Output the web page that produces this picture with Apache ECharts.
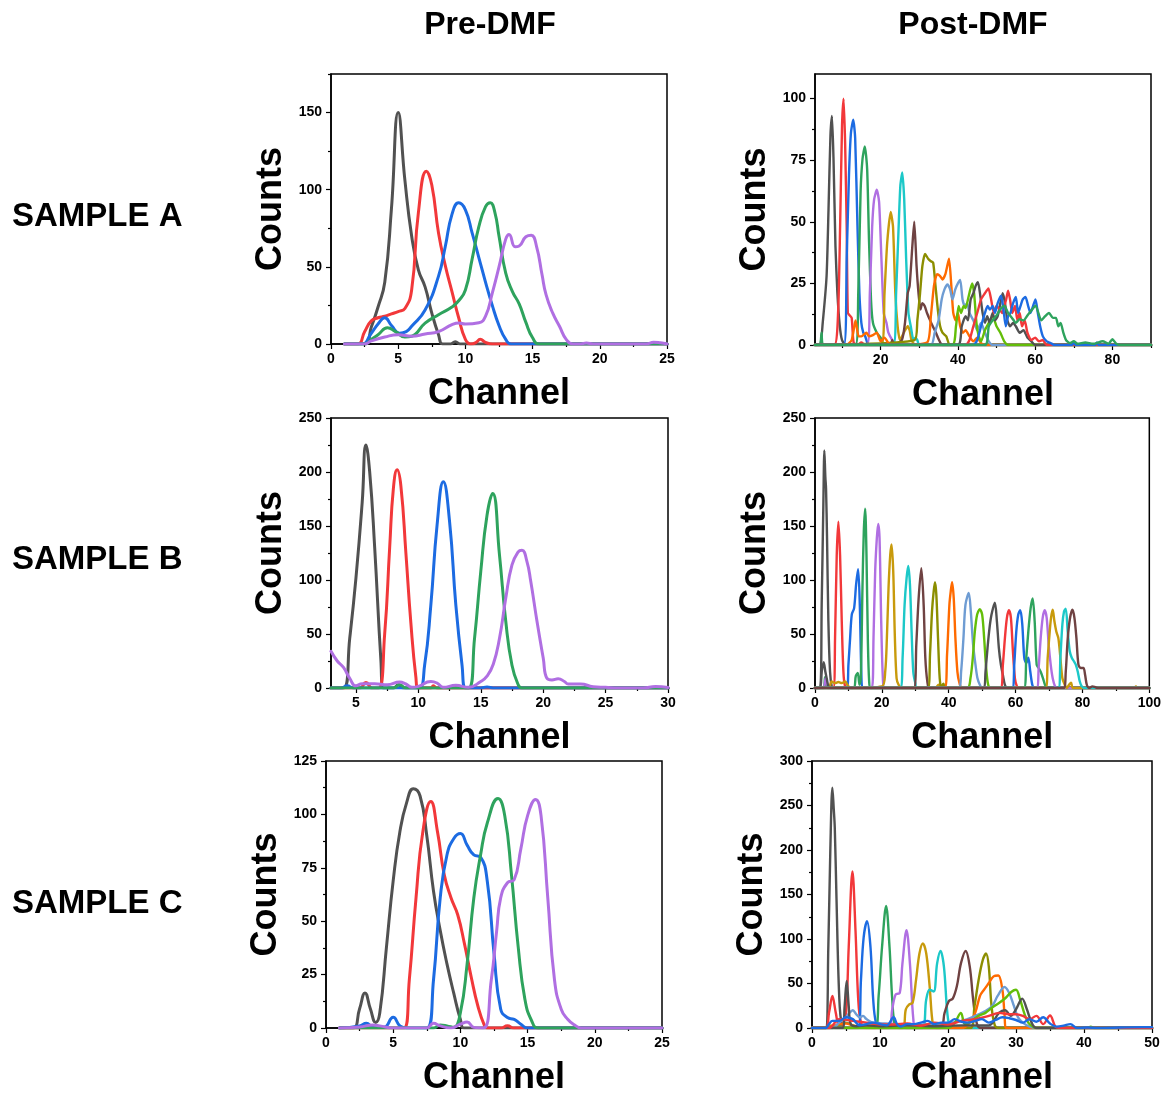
<!DOCTYPE html>
<html>
<head>
<meta charset="utf-8">
<script src="https://cdn.jsdelivr.net/npm/echarts@6/dist/echarts.min.js"></script>
<style>
  html, body { margin: 0; padding: 0; background: #fff; }
  #chart { width: 1164px; height: 1097px; }
</style>
</head>
<body>
<div id="chart"></div>
<script>
// ---------- Axis ticks ----------
const preA_xMajor = [0, 5, 10, 15, 20, 25];
const preA_xMinor = [2.5, 7.5, 12.5, 17.5, 22.5];
const preA_yMajor = [0, 50, 100, 150];
const preA_yMinor = [25, 75, 125, 175];

const postA_xMajor = [20, 40, 60, 80];
const postA_xMinor = [10, 30, 50, 70, 90];
const postA_yMajor = [0, 25, 50, 75, 100];
const postA_yMinor = [12.5, 37.5, 62.5, 87.5];

const preB_xMajor = [5, 10, 15, 20, 25, 30];
const preB_xMinor = [7.5, 12.5, 17.5, 22.5, 27.5];
const preB_yMajor = [0, 50, 100, 150, 200, 250];
const preB_yMinor = [25, 75, 125, 175, 225];

const postB_xMajor = [0, 20, 40, 60, 80, 100];
const postB_xMinor = [10, 30, 50, 70, 90];
const postB_yMajor = [0, 50, 100, 150, 200, 250];
const postB_yMinor = [25, 75, 125, 175, 225];

const preC_xMajor = [0, 5, 10, 15, 20, 25];
const preC_xMinor = [2.5, 7.5, 12.5, 17.5, 22.5];
const preC_yMajor = [0, 25, 50, 75, 100, 125];
const preC_yMinor = [12.5, 37.5, 62.5, 87.5, 112.5];

const postC_xMajor = [0, 10, 20, 30, 40, 50];
const postC_xMinor = [5, 15, 25, 35, 45];
const postC_yMajor = [0, 50, 100, 150, 200, 250, 300];
const postC_yMinor = [25, 75, 125, 175, 225, 275];

// ---------- Sample A, pre-DMF: [channel, counts] ----------
const preA_gray = [[1,0],[2.5,0],[3,11],[3.5,24],[4,40],[4.5,88],[5,150],[5.5,106],[6,70],[6.5,48],[7,37],[7.5,20],[8,6],[8.3,0],[8.9,0],[9.25,1.5],[9.6,0],[25,0]];
const preA_red = [[1,0],[2,0],[2.5,8],[3,15],[3.5,17],[4,18],[4.5,19.5],[5,21],[5.5,23],[6,35],[6.5,85],[7.1,112],[7.5,103],[8,72],[8.5,51],[9,34],[9.5,17],[10,3],[10.4,0],[10.8,1],[11.1,3],[11.5,1],[12,0],[25,0]];
const preA_blue = [[1,0],[2.3,0],[3,7],[3.5,13],[4,17],[4.5,12],[5.1,7],[5.6,8],[6,11.5],[7,22],[8,44],[8.5,63],[9,84],[9.5,91.5],[10,87],[10.5,72],[11,56],[11.5,40],[12,25],[12.5,12],[13,3],[13.4,0],[25,0]];
const preA_green = [[1,0],[2.5,0],[3,3],[3.5,6],[4.2,10.5],[4.8,8],[5.5,4.5],[6,5],[7,13.5],[8,19],[9,24],[9.5,28],[10,35],[10.5,55],[11,76],[11.5,89],[11.85,91.5],[12.2,85],[12.5,70],[13,46],[13.5,34],[14,26],[14.5,14],[15,4],[15.5,0],[25,0]];
const preA_purple = [[1,0],[2.5,0],[3,2],[4,4.5],[5,6],[6,5],[7,6.5],[8,8],[9,12.5],[9.5,13.6],[10,13],[11,13.8],[11.5,18],[12,33],[12.5,50],[13,68],[13.25,71],[13.7,63],[14,63.5],[14.5,69.5],[14.9,70.5],[15.3,63],[15.7,45],[16,32],[16.5,20],[17,11.5],[17.5,3],[18,0],[18.6,0],[19,0.7],[19.5,0],[23.5,0],[24,1.2],[24.5,0.8],[25,0]];

// ---------- Sample B, pre-DMF ----------
const preB_gray = [[3,0],[4,0],[4.5,46],[5,102],[5.5,172],[5.8,225],[6.1,200],[6.5,130],[7,25],[7.2,0],[8,0],[8.4,3],[8.8,0],[30,0]];
const preB_red = [[3,0],[5.3,0],[5.8,5],[6.3,0],[6.8,0],[7.3,50],[7.7,130],[8,185],[8.3,202],[8.6,187],[9,125],[9.4,60],[9.8,10],[10,0],[11,0],[11.2,2],[11.5,0],[30,0]];
const preB_blue = [[3,0],[3.8,0],[4.3,2],[4.8,0],[10,0],[10.5,21],[11,77],[11.5,151],[12,191],[12.5,154],[13,77],[13.5,21],[13.8,0],[15,0],[15.5,1],[16,0],[30,0]];
const preB_green = [[3,0],[8,0],[8.5,3],[9,0],[14,0],[14.5,46],[15,108],[15.5,160],[15.95,180],[16.5,123],[17,62],[17.5,21],[18,3],[18.3,0],[30,0]];
const preB_purple = [[3,34],[3.5,25],[4,19],[4.5,9],[5,2],[5.5,4],[6.5,4],[7.5,3],[8.5,5.5],[9,3.7],[9.5,0.6],[10,1.5],[11,6],[11.5,4.6],[12,0.6],[13,2.5],[14,0.6],[15,6],[15.5,11],[16,22],[16.5,46],[17,83],[17.5,114],[18,126],[18.3,127.5],[18.7,117],[19,99],[19.5,62],[20,28],[20.3,9],[20.7,7.5],[21.2,8.5],[21.7,6],[22,3.7],[23,3.7],[24,1.2],[25,0.6],[26,0],[28,0],[29,1.5],[30,0.5]];

// ---------- Sample C, pre-DMF ----------
const preC_gray = [[1,0],[2,0],[2.5,9],[2.9,16.4],[3.3,9],[3.7,2.6],[4,7],[4.5,38],[5,69],[5.5,92],[6,105.5],[6.5,112],[7,108.6],[7.5,90],[8,64],[8.5,45.6],[9,30],[9.5,16.4],[10,4],[10.3,0],[25,0]];
const preC_red = [[1,0],[5.8,0],[6.2,22.6],[6.7,61],[7.2,91.7],[7.8,106],[8.3,91.7],[8.8,71.7],[9.3,61],[9.8,53],[10.3,39.5],[10.8,24],[11.3,10.3],[11.8,1],[12,0],[13,0],[13.5,1],[14,0],[25,0]];
const preC_blue = [[1,0],[2.5,1],[3,2.2],[3.5,0.5],[4.3,0.3],[5,5],[5.5,1],[6,0],[7.5,0],[8,22.6],[8.5,61],[9,81],[9.5,88.6],[10,91],[10.5,85.6],[11,81],[11.5,80],[12,68.7],[12.5,35],[13,8.8],[13.5,4.9],[14,4],[14.5,1.8],[15,0],[25,0]];
const preC_green = [[1,0],[8,0],[8.5,1.4],[9,1],[9.5,0.3],[10,7.2],[10.5,30],[11,61],[11.5,81],[12,96],[12.8,107.4],[13.3,99.4],[13.8,71.7],[14.3,38],[14.8,13.4],[15.3,3.4],[15.8,0],[25,0]];
const preC_purple = [[1,0],[2.5,0.5],[3.5,1.4],[4,1],[5,0],[7.5,0],[8,2.2],[8.5,1],[9.3,0],[10,1.8],[10.5,2.8],[11,0.3],[11.7,0],[12.3,22.6],[12.7,45.6],[13,61],[13.5,68],[14,69.4],[14.5,84],[15,99.4],[15.6,107],[16,99.4],[16.5,61],[17,22.6],[17.5,8.8],[18,4],[18.5,1.4],[19,0],[25,0]];

// ---------- Sample A, post-DMF ----------
const postA_gray = [[3,0],[4.3,0],[5,9],[6,28],[6.5,55],[7,85],[7.4,93],[7.8,75],[8.3,40],[8.8,21],[9.4,8],[10,2],[11,0],[90,0]];
const postA_red = [[3,0],[8,0],[9,14],[9.5,48],[10,89],[10.4,100],[10.8,82],[11.2,48],[11.5,13],[12,12],[12.5,11],[13,1],[14,0],[15,1],[16,0],[90,0]];
const postA_blue = [[3,0],[10.5,0],[11.2,35],[11.8,69],[12.3,86],[12.9,91.5],[13.4,84],[14,48],[14.5,21],[15,9],[15.5,5],[16,3.5],[17,0],[90,0]];
const postA_green = [[3,0],[4.3,0],[4.7,5],[5.1,0],[13.5,0],[14.2,21],[14.8,62],[15.3,75.5],[15.9,80.6],[16.5,71.5],[17,41.6],[17.5,18.5],[18,9],[19,5],[20,3],[21,0],[90,0]];
const postA_purple = [[3,0],[16.5,0],[17.2,21],[17.8,48],[18.3,59],[19,63],[19.6,58],[20.2,35],[20.8,13],[21.5,9],[22,5],[23,2],[24,0],[90,0]];
const postA_gold = [[3,0],[20.2,0],[21,21],[21.7,41.6],[22.6,54],[23.2,48],[23.8,21],[24.4,7.6],[25,2],[26,5],[27,7.6],[27.5,6],[28,2],[29,0],[90,0]];
const postA_cyan = [[3,0],[23.3,0],[24,21],[24.6,45.6],[25.1,64.7],[25.6,70],[26.1,59],[26.6,35],[27.2,13],[27.8,7.6],[28.5,2],[29,3],[29.5,2],[30,0],[90,0]];
const postA_brown = [[3,0],[22.5,0],[23,2],[23.5,0],[25.5,2],[26.3,9],[27,21],[27.5,24],[28.2,40],[28.7,50],[29.3,32],[29.8,21],[30.3,14.4],[30.8,17],[31.4,15.8],[32,13],[32.8,10],[33.5,7.6],[34.3,5],[35,2.4],[36,0],[90,0]];
const postA_olive = [[3,0],[28.8,2],[29.5,10],[30.2,21],[30.8,32],[31.5,37],[32.3,35],[33,34],[33.6,33.4],[34.2,24],[34.8,14.4],[35.4,7.6],[36,5],[37,3.5],[38,0],[90,0]];
const postA_orange = [[3,0],[11,0],[12.5,2],[13.5,10],[14.3,3.5],[15,3.5],[16.3,5],[17,3.5],[18,4],[19,5],[20,1.5],[21,3],[22,0.8],[23,0],[32,1],[33,11.7],[33.8,24],[34.6,28.7],[35.4,28],[36,26.6],[36.8,29],[37.7,35],[38.3,24],[38.8,13],[39.4,10],[40,13],[40.6,7.6],[41.3,5],[42,6],[43,3.5],[44,1.5],[45,3],[46,0.8],[47,0],[90,0]];
const postA_lightblue = [[3,0],[33,0],[34,5],[35,10],[35.8,18.5],[36.5,22.5],[37.3,24.6],[38,22.5],[38.6,18.5],[39.3,22.5],[40,25],[40.6,26.4],[41.2,18.5],[41.8,15.8],[42.4,17],[43,13],[44,10],[45,6],[46,9],[47,5],[48,1.5],[49,0],[90,0]];
const postA_lime = [[3,0],[38.5,0],[39.5,7.6],[40.2,15.8],[40.8,13],[41.5,15.8],[42,15],[42.6,18.5],[43.2,22.5],[43.7,25],[44.2,21],[44.8,9],[45.4,3.5],[46,1.5],[47,6],[48,9],[49,11.7],[50,7.6],[51,5],[52,1.5],[53,0],[90,0]];
const postA_gray2 = [[3,0],[40,0],[41,7.6],[42,11.7],[42.6,10],[43.3,18.5],[44,21],[44.6,24],[45.2,25.5],[45.8,20],[46.4,13],[47,9],[47.6,11.7],[48.2,9],[49,13],[49.6,10],[50.3,11.7],[51,17],[51.6,21],[52.2,17],[52.8,10],[53.5,7.6],[54.3,9],[55,7.6],[56,5],[57,6],[58,3],[59,1.5],[60,0],[90,0]];
const postA_red2 = [[3,0],[42,0],[43,2],[44,7.6],[45,13],[46,18.5],[47,21],[47.9,23],[48.6,18.5],[49.3,13],[50,15.8],[50.8,14.4],[51.5,13],[52,15.8],[52.5,18.5],[53,22],[53.5,18.5],[54.1,13],[54.8,15.8],[55.4,10],[56,13],[56.6,7.6],[57.3,10],[58,5],[59,2],[60,3],[61,1.5],[62,2],[63,0],[90,0]];
const postA_blue2 = [[3,0],[44,0],[45,2],[46,7.6],[47,13],[47.7,15.8],[48.3,14.4],[49,15.8],[49.6,13],[50.3,17],[51.2,20],[51.8,14.4],[52.4,7.6],[53,11.7],[53.6,13],[54.3,17],[55,19.5],[55.6,13],[56.2,15.8],[56.8,18.5],[57.5,19.5],[58.2,15.8],[58.8,13],[59.5,16],[60.1,18.5],[60.7,13],[61.3,7.6],[62,3.5],[63,1.5],[64,0.8],[65,0],[69.5,0],[70,1],[70.5,0],[75.5,0],[76,1],[76.5,0],[90,0]];
const postA_green2 = [[3,0],[47,0],[48,7.6],[49,10],[50,12],[51,14.5],[52,16],[53,13],[54,11],[55,9],[56,10.5],[57,10],[58,12],[59,14],[60.1,16],[61.6,10],[62.6,11.7],[63.6,13],[64.6,11],[65.4,11],[66,7.6],[66.6,9],[67.3,5],[68,2],[69,0.8],[70,1.5],[71,0.5],[73,1],[75,0.5],[77.5,1.5],[79,0.5],[80,2.4],[81,0.5],[82,0],[90,0]];

// ---------- Sample B, post-DMF ----------
const postB_gray = [[0,0],[1.5,0],[2,77],[2.5,170],[2.8,220],[3.1,195],[3.3,185],[3.6,139],[4,62],[4.5,15],[5,1.5],[5.5,0],[100,0]];
const postB_red = [[0,0],[5.5,0],[6,46],[6.5,123],[7,154],[7.5,123],[8,62],[8.5,15],[9,1.5],[10,0],[100,0]];
const postB_blue = [[0,0],[3,0],[3.6,3],[4.2,0],[9.5,0],[10,21.6],[10.5,46],[11,68],[11.7,74],[12.3,96],[12.9,110],[13.4,77],[13.9,9],[14.3,0],[100,0]];
const postB_green = [[0,0],[2.5,0],[3,10],[3.5,0],[11.5,0],[12.2,11],[12.8,14],[13.3,3],[13.7,9],[14.2,93],[14.6,145],[15,166],[15.4,123],[15.8,46],[16.2,6],[16.7,0],[100,0]];
const postB_purple = [[0,0],[2.5,0],[3.2,9],[3.8,2],[4.5,0],[17,0],[17.5,46],[18,108],[18.5,139],[18.9,152],[19.3,139],[19.8,62],[20.3,9],[20.8,0],[100,0]];
const postB_gold = [[0,0],[4,0],[5,6],[6,4.5],[7,5.5],[8,4.6],[9,6],[10,1.5],[11,0],[20,1.5],[21,15],[21.5,46],[22,93],[22.5,123],[22.9,133],[23.4,108],[23.9,46],[24.4,9],[25,3],[26,0],[36,0],[37,3],[38,1],[39,0],[95.5,0],[96,1.5],[96.5,0],[100,0]];
const postB_cyan = [[0,0],[25.5,0],[26.2,28],[26.8,77],[27.4,102],[27.9,113],[28.4,96],[28.9,52],[29.4,15],[30,4.6],[30.5,0],[100,0]];
const postB_brown = [[0,0],[29.6,0],[30.3,40],[31,83],[31.8,111],[32.5,77],[33,28],[33.6,6],[34.3,0],[100,0]];
const postB_olive = [[0,0],[33.8,0],[34.4,31],[35,71],[35.5,89.5],[35.9,98],[36.3,86],[36.8,46],[37.3,9],[37.8,0],[38.4,4],[39,0],[100,0]];
const postB_orange = [[0,0],[38.8,0],[39.5,31],[40.2,77],[40.6,89.5],[41,98],[41.5,83],[42,46],[42.6,15],[43.2,4.6],[44,0],[100,0]];
const postB_lightblue = [[0,0],[43,0],[43.7,15],[44.4,46],[45,77],[46,88],[46.6,71],[47.3,40],[48,21.6],[48.6,9],[49.3,3],[50,0],[100,0]];
const postB_lime = [[0,0],[45.5,0],[46.5,9],[47.2,28],[47.8,52],[48.5,68],[49.3,73],[50,68],[50.6,46],[51.2,18.5],[51.8,3],[52.5,0],[100,0]];
const postB_gray2 = [[0,0],[1.5,0],[2,15],[2.6,24],[3.1,15],[3.5,9],[4,1.5],[4.5,0],[50.5,0],[51,15],[51.6,37],[52.2,55.5],[52.8,68],[53.8,79],[54.4,62],[55,37],[55.6,21.6],[56.2,12],[56.8,3],[57.5,0],[100,0]];
const postB_red2 = [[0,0],[55.5,0],[56.2,21.6],[56.8,46],[57.4,65],[58,72],[58.6,65],[59.2,34],[59.8,9],[60.4,1.5],[61,0],[100,0]];
const postB_blue2 = [[0,0],[59,0],[59.6,21.6],[60.2,52],[60.8,68],[61.4,72],[62,59],[62.6,28],[63.2,23],[63.8,28],[64.4,15],[65,3],[65.6,0],[100,0]];
const postB_green2 = [[0,0],[62.5,0],[63.2,28],[63.8,52],[64.5,74],[65.1,83],[65.7,62],[66.3,21.6],[66.9,18.5],[67.5,15],[68.2,9],[68.8,3],[69.5,0],[100,0]];
const postB_purple2 = [[0,0],[66.3,0],[66.9,18.5],[67.5,46],[68.1,65],[68.7,72],[69.3,65],[69.9,40],[70.5,21.6],[71.1,9],[71.8,1.5],[72.5,0],[100,0]];
const postB_gold2 = [[0,0],[69,0],[69.6,28],[70.2,52],[70.6,65],[71.1,72.5],[71.6,62],[72.2,52],[72.8,46],[73.4,28],[74,9],[74.7,3],[75.3,0],[76,3],[76.6,5],[77.2,0],[100,0]];
const postB_cyan2 = [[0,0],[72.8,0],[73.4,28],[74,59],[74.5,71],[75,73.5],[75.6,52],[76.2,34],[76.8,28],[77.4,25],[78,21.6],[78.6,15],[79.2,6],[79.8,1.5],[80.5,0],[100,0]];
const postB_brown2 = [[0,0],[74.4,0],[75,15],[75.6,46],[76.3,65],[77,72.5],[77.6,65],[78.2,46],[78.8,21.6],[79.5,18.5],[80.3,18.5],[80.8,12],[81.3,3],[82,0],[83,1.5],[84,0.5],[85,0],[100,0]];

// ---------- Sample C, post-DMF ----------
const postC_gray = [[0,0],[2,0],[2.4,91],[2.7,202],[3,270],[3.2,246],[3.35,225],[3.6,146],[4,36],[4.4,2.6],[5,0],[50,0]];
const postC_red = [[0,0],[2,0],[2.5,17],[3,36],[3.5,17],[4,1.5],[4.5,4],[5,17],[5.4,91],[5.95,176],[6.4,109],[6.8,32],[7.2,6],[7.8,1.5],[9,3],[10,0.5],[12,2],[14,0],[50,0]];
const postC_blue = [[0,0],[6.8,0],[7.2,54],[7.6,102],[8.1,120],[8.6,91],[9,32],[9.4,6],[10,0],[50,0]];
const postC_green = [[0,0],[3,0],[4,3],[5,6],[6,3],[7,1],[9.3,0],[9.8,36],[10.3,91],[10.9,137],[11.4,91],[11.8,32],[12.2,2.6],[12.8,0],[50,0]];
const postC_purple = [[0,0],[11.3,0],[11.8,21],[12.3,37.6],[12.9,39.4],[13.3,72.6],[13.9,110],[14.4,72.6],[14.9,10],[15.3,0],[50,0]];
const postC_gold = [[0,0],[2,0],[2.8,3],[3.5,0],[13.3,0],[13.8,21],[14.3,26.5],[14.8,28.4],[15.3,54],[15.8,83.7],[16.3,95],[16.8,83.7],[17.3,46.8],[17.8,2.6],[18.3,0],[50,0]];
const postC_cyan = [[0,0],[16.2,0],[16.8,32],[17.3,43],[17.9,41],[18.4,72.6],[18.9,86.6],[19.4,69],[19.9,17],[20.3,1.5],[21,0],[50,0]];
const postC_brown = [[0,0],[18.8,0],[19.5,17],[20.1,30],[20.7,33],[21.3,46.8],[21.9,72.6],[22.6,86.6],[23.2,69],[23.7,32],[24.2,6],[24.8,0],[50,0]];
const postC_olive = [[0,0],[23.3,0],[23.9,24.7],[24.5,54],[25.1,76],[25.6,83.7],[26,69],[26.4,24.7],[26.9,2.6],[27.5,0],[50,0]];
const postC_orange = [[0,0],[2,0],[3,2],[4,4],[5,5],[6,3],[7,1],[8,0],[22,0],[23,4.4],[24,17],[24.7,36],[25.3,43],[26,50.5],[26.7,58],[27.4,59],[28,43],[28.3,17],[28.6,0],[50,0]];
const postC_lightblue = [[0,0],[3,0],[4,6],[5,12],[5.5,17],[6,20],[6.5,15.5],[7,12],[7.5,13.6],[8,10],[9,6],[10,5.5],[12,4.4],[15,3.5],[18,4.4],[20,5.5],[22,8],[24,13.6],[25.5,19],[26.5,24.7],[27.3,36],[28.3,46],[29,39.4],[29.7,24.7],[30.3,12],[31,6],[32,1.5],[33,0],[50,0]];
const postC_lime = [[0,0],[20,0],[21,6],[21.9,17],[22.5,4.4],[23.5,8],[24.5,13.6],[25.5,17],[26.5,23],[27.5,28],[28.5,34],[29.3,40.5],[30,43],[30.6,32],[31.2,17],[31.8,6],[32.5,1.5],[33,0],[40.5,0],[41,1.5],[41.5,0],[50,0]];
const postC_gray2 = [[0,0],[4.5,0],[4.8,24.7],[5.1,53],[5.4,24.7],[5.7,4.4],[6.5,2],[8,3],[10,2],[14,3],[18,2],[22,3],[26,3],[27.5,17],[28.4,20],[29.2,13.6],[30,21],[30.9,33],[31.6,21],[32.3,6],[33,0],[50,0]];
const postC_red2 = [[0,0],[2.5,0],[4,10],[6,8],[8,6],[10,4],[12,4],[14,5],[16,2.6],[18,6],[20,4],[22,8],[24,10],[26,13.6],[27.5,17],[29,15.5],[30,15.5],[31,13.6],[32,10],[33,13.6],[34,4.4],[35,14],[35.8,1.5],[36.5,0],[50,0]];
const postC_blue2 = [[0,0],[2,0],[2.5,4.4],[3,8],[4,8],[5,12],[6,10],[7,3],[8,4.4],[9,6],[10,4.4],[11,3],[12,12],[12.5,4.4],[13,1.5],[14,4.4],[15,4.4],[16,6],[17,8],[18,4.4],[19,6],[20,6],[21,10],[22,7],[23,6],[24,8],[25,10],[26,6],[27,9],[28,12],[29,11],[30,9],[31,6],[32,10],[33,7],[34,12],[35,5],[36,1.5],[37,2.6],[38,4.4],[39,0],[40.5,0.5],[42,0],[48.5,1],[50,1]];

// ---------- Drawing ----------
const FONT = '"Liberation Sans", Arial, Helvetica, sans-serif';
const palette = ['#515151', '#F2383A', '#1C6BE2', '#2EA35D', '#B06FE2', '#C89A0C',
                 '#1CC8C8', '#6F4242', '#8C8E00', '#FF6A00', '#6E9CD3', '#63BE08'];

const panels = [
  { grid: { left: 331, top: 74, width: 336, height: 270 }, x: [0, 25], y: [0, 175],
    xMajor: preA_xMajor, xMinor: preA_xMinor, yMajor: preA_yMajor, yMinor: preA_yMinor,
    lines: [preA_gray, preA_red, preA_blue, preA_green, preA_purple], lw: 3, smooth: 0.5 },
  { grid: { left: 815, top: 74, width: 336, height: 271 }, x: [3, 90], y: [0, 110],
    xMajor: postA_xMajor, xMinor: postA_xMinor, yMajor: postA_yMajor, yMinor: postA_yMinor,
    lines: [postA_gray, postA_red, postA_blue, postA_green, postA_purple, postA_gold, postA_cyan,
            postA_brown, postA_olive, postA_orange, postA_lightblue, postA_lime,
            postA_gray2, postA_red2, postA_blue2, postA_green2], lw: 2.4, smooth: 0.2 },
  { grid: { left: 331, top: 418, width: 337, height: 270 }, x: [3, 30], y: [0, 250],
    xMajor: preB_xMajor, xMinor: preB_xMinor, yMajor: preB_yMajor, yMinor: preB_yMinor,
    lines: [preB_gray, preB_red, preB_blue, preB_green, preB_purple], lw: 3, smooth: 0.5 },
  { grid: { left: 815, top: 418, width: 336, height: 270 }, x: [0, 100], y: [0, 250],
    xMajor: postB_xMajor, xMinor: postB_xMinor, yMajor: postB_yMajor, yMinor: postB_yMinor,
    lines: [postB_gray, postB_red, postB_blue, postB_green, postB_purple, postB_gold, postB_cyan,
            postB_brown, postB_olive, postB_orange, postB_lightblue, postB_lime,
            postB_gray2, postB_red2, postB_blue2, postB_green2, postB_purple2, postB_gold2,
            postB_cyan2, postB_brown2], lw: 2.4, smooth: 0.3 },
  { grid: { left: 326, top: 761, width: 336, height: 271 }, x: [0, 25], y: [0, 125],
    xMajor: preC_xMajor, xMinor: preC_xMinor, yMajor: preC_yMajor, yMinor: preC_yMinor,
    lines: [preC_gray, preC_red, preC_blue, preC_green, preC_purple], lw: 3, smooth: 0.5 },
  { grid: { left: 812, top: 761, width: 340, height: 271 }, x: [0, 50], y: [0, 300],
    xMajor: postC_xMajor, xMinor: postC_xMinor, yMajor: postC_yMajor, yMinor: postC_yMinor,
    lines: [postC_gray, postC_red, postC_blue, postC_green, postC_purple, postC_gold, postC_cyan,
            postC_brown, postC_olive, postC_orange, postC_lightblue, postC_lime,
            postC_gray2, postC_red2, postC_blue2], lw: 2.4, smooth: 0.35 }
];

const grids = [], xAxes = [], yAxes = [], series = [];
const labelStyle = { color: '#000', fontFamily: FONT, fontWeight: 'bold', fontSize: 14 };
const nameStyle = { color: '#000', fontFamily: FONT, fontWeight: 'bold', fontSize: 36 };

panels.forEach((p, gi) => {
  grids.push(Object.assign({ show: true, borderColor: '#000', borderWidth: 1.5, backgroundColor: 'transparent' }, p.grid));
  const xi = xAxes.length, yi = yAxes.length;
  // major x axis with labels
  xAxes.push({
    type: 'value', gridIndex: gi, position: 'bottom', min: p.x[0], max: p.x[1],
    name: 'Channel', nameLocation: 'middle', nameGap: 32, nameTextStyle: nameStyle,
    axisLine: { show: true, onZero: false, lineStyle: { color: '#000', width: 1.5 } },
    axisTick: { show: true, inside: false, length: 5, customValues: p.xMajor, lineStyle: { color: '#000', width: 1.2 } },
    axisLabel: Object.assign({ show: true, margin: 8, customValues: p.xMajor }, labelStyle),
    splitLine: { show: false }
  });
  // minor x ticks
  xAxes.push({
    type: 'value', gridIndex: gi, position: 'bottom', min: p.x[0], max: p.x[1],
    axisLine: { show: false, onZero: false },
    axisTick: { show: true, inside: false, length: 3, customValues: p.xMinor, lineStyle: { color: '#000', width: 1.2 } },
    axisLabel: { show: false, customValues: p.xMinor },
    splitLine: { show: false }
  });
  yAxes.push({
    type: 'value', gridIndex: gi, position: 'left', min: p.y[0], max: p.y[1],
    name: 'Counts', nameLocation: 'middle', nameGap: 42, nameTextStyle: nameStyle,
    axisLine: { show: true, onZero: false, lineStyle: { color: '#000', width: 1.5 } },
    axisTick: { show: true, inside: false, length: 5, customValues: p.yMajor, lineStyle: { color: '#000', width: 1.2 } },
    axisLabel: Object.assign({ show: true, margin: 9, customValues: p.yMajor }, labelStyle),
    splitLine: { show: false }
  });
  yAxes.push({
    type: 'value', gridIndex: gi, position: 'left', min: p.y[0], max: p.y[1],
    axisLine: { show: false, onZero: false },
    axisTick: { show: true, inside: false, length: 3, customValues: p.yMinor, lineStyle: { color: '#000', width: 1.2 } },
    axisLabel: { show: false, customValues: p.yMinor },
    splitLine: { show: false }
  });
  p.lines.forEach((d, k) => {
    series.push({
      type: 'line', xAxisIndex: xi, yAxisIndex: yi, data: d,
      showSymbol: false, symbol: 'none', smooth: p.smooth, clip: true,
      lineStyle: { color: palette[k % palette.length], width: p.lw, join: 'round', cap: 'round' },
      animation: false, silent: true
    });
  });
});

const textEl = (text, x, y, size, align) => ({
  type: 'text', x: x, y: y,
  style: { text: text, fill: '#000', font: 'bold ' + size + 'px ' + FONT,
           textAlign: align, textVerticalAlign: 'middle' }
});

const chart = echarts.init(document.getElementById('chart'), null, { renderer: 'canvas' });
chart.setOption({
  backgroundColor: '#fff',
  animation: false,
  grid: grids,
  xAxis: xAxes,
  yAxis: yAxes,
  series: series,
  graphic: [
    textEl('Pre-DMF', 490, 25, 32, 'center'),
    textEl('Post-DMF', 973, 25, 32, 'center'),
    textEl('SAMPLE A', 12, 217, 33, 'left'),
    textEl('SAMPLE B', 12, 560, 33, 'left'),
    textEl('SAMPLE C', 12, 904, 33, 'left')
  ]
});
</script>
</body>
</html>
